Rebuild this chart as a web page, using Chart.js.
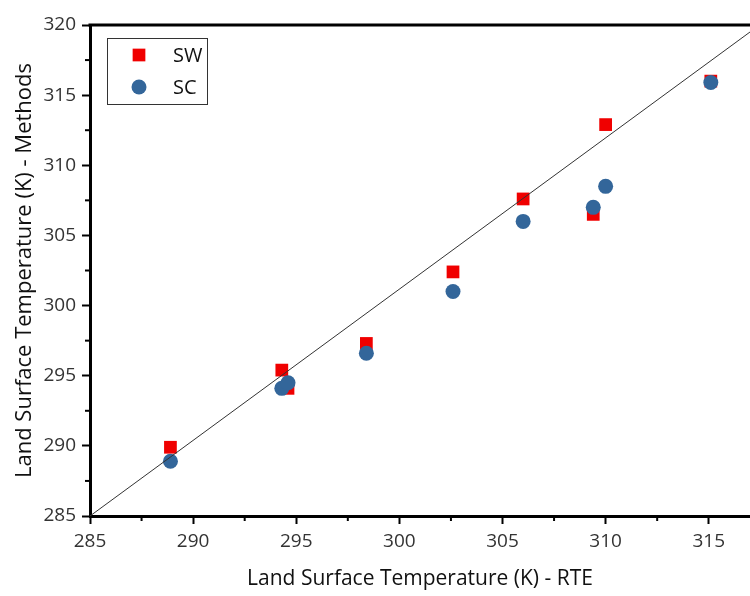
<!DOCTYPE html>
<html>
<head>
<meta charset="utf-8">
<script src="https://cdn.jsdelivr.net/npm/chart.js@4.4.1/dist/chart.umd.min.js"></script>
<style>
html, body { margin: 0; padding: 0; background: #fff; }
#wrap { width: 750px; height: 596px; }
</style>
</head>
<body>
<div id="wrap"><canvas id="chart" width="750" height="596"></canvas></div>
<script>
// values (K)
let rteTemps = [288.9, 294.3, 294.6, 298.4, 302.6, 306.0, 309.4, 310.0, 315.1];
let swTemps = [289.9, 295.4, 294.1, 297.3, 302.4, 307.6, 306.5, 312.9, 316.0];
let scTemps = [288.9, 294.1, 294.5, 296.6, 301.0, 306.0, 307.0, 308.5, 315.9];
let refLineX = [285, 317];
let refLineY = [285, 319.5];
let xTickLabels = [285, 290, 295, 300, 305, 310, 315];
let yTickLabels = [285, 290, 295, 300, 305, 310, 315, 320];
let seriesNames = ['SW', 'SC'];

const RED = '#f00000';
const BLUE = '#33669a';
const FONT = "'Open Sans', 'DejaVu Sans', sans-serif";

function toPoints(xs, ys){
    return xs.map((x, i) => ({ x: x, y: ys[i] }));
}

function isMajor(value, labels){
    return labels.indexOf(Math.round(value * 10) / 10) !== -1;
}

// short minor ticks between the labelled ones, plus the closing top line
const frameAndMinorTicks = {
    id: 'frameAndMinorTicks',
    afterDraw(chart){
        let ctx = chart.ctx;
        let area = chart.chartArea;
        ctx.save();
        ctx.strokeStyle = '#000';
        ctx.lineWidth = 3;
        ctx.beginPath();
        ctx.moveTo(area.left - 1.5, area.top);
        ctx.lineTo(area.right, area.top);
        ctx.stroke();

        ctx.lineWidth = 2;
        let xs = chart.scales.x;
        xs.ticks.forEach(t => {
            if(isMajor(t.value, xTickLabels)) return;
            let px = xs.getPixelForValue(t.value);
            ctx.beginPath();
            ctx.moveTo(px, area.bottom);
            ctx.lineTo(px, area.bottom + 5);
            ctx.stroke();
        });
        let ys = chart.scales.y;
        ys.ticks.forEach(t => {
            if(isMajor(t.value, yTickLabels)) return;
            let py = ys.getPixelForValue(t.value);
            ctx.beginPath();
            ctx.moveTo(area.left, py);
            ctx.lineTo(area.left - 5, py);
            ctx.stroke();
        });
        ctx.restore();
    }
};

// boxed legend in the upper left corner of the plot
const boxedLegend = {
    id: 'boxedLegend',
    afterDraw(chart){
        let ctx = chart.ctx;
        let area = chart.chartArea;
        let left = area.left + 17;
        let top = area.top + 13;
        ctx.save();
        ctx.strokeStyle = '#333';
        ctx.lineWidth = 1;
        ctx.strokeRect(left + 0.5, top + 0.5, 100, 66);

        let styles = [
            { pointStyle: 'rect', radius: 9, color: RED },
            { pointStyle: 'circle', radius: 7.5, color: BLUE }
        ];
        ctx.font = '20px ' + FONT;
        ctx.textBaseline = 'middle';
        styles.forEach((s, i) => {
            let cy = top + 17 + i * 32;
            ctx.fillStyle = s.color;
            Chart.helpers.drawPoint(ctx, { pointStyle: s.pointStyle, radius: s.radius, rotation: 0, borderWidth: 0 }, left + 32, cy);
            ctx.fillStyle = '#111';
            ctx.fillText(seriesNames[i], left + 66, cy + 1);
        });
        ctx.restore();
    }
};

function axisOptions(min, max, labels, title, titleSize, titlePadding){
    return {
        type: 'linear',
        min: min,
        max: max,
        title: {
            display: true,
            text: title,
            color: '#111',
            font: { family: FONT, size: titleSize },
            padding: titlePadding
        },
        ticks: {
            stepSize: 2.5,
            includeBounds: false,
            autoSkip: false,
            maxRotation: 0,
            color: '#333',
            padding: 6,
            font: { family: FONT, size: 19 },
            callback: (value) => isMajor(value, labels) ? String(value) : ''
        },
        grid: {
            display: true,
            drawOnChartArea: false,
            drawTicks: true,
            tickLength: 8,
            tickWidth: 2,
            tickColor: (c) => (c.tick && isMajor(c.tick.value, labels)) ? '#000' : 'rgba(0,0,0,0)'
        },
        border: { display: true, color: '#000', width: 3 }
    };
}

let xAxis = axisOptions(285, 317, xTickLabels, 'Land Surface Temperature (K) - RTE', 21, { top: 8, bottom: 4 });
xAxis.afterFit = (scale) => { scale.height = 80; };
let yAxis = axisOptions(285, 320, yTickLabels, 'Land Surface Temperature (K) - Methods', 22, { top: 12, bottom: 0 });
yAxis.afterFit = (scale) => { scale.width = 90; };

new Chart(document.getElementById('chart').getContext('2d'), {
    type: 'scatter',
    data: {
        datasets: [
            {
                label: 'reference',
                type: 'line',
                data: toPoints(refLineX, refLineY),
                borderColor: '#333',
                borderWidth: 1,
                pointRadius: 0,
                fill: false,
                order: 0
            },
            {
                label: seriesNames[1],
                data: toPoints(rteTemps, scTemps),
                pointStyle: 'circle',
                pointRadius: 7.5,
                backgroundColor: BLUE,
                borderWidth: 0,
                order: 1
            },
            {
                label: seriesNames[0],
                data: toPoints(rteTemps, swTemps),
                pointStyle: 'rect',
                pointRadius: 9,
                backgroundColor: RED,
                borderWidth: 0,
                order: 2
            }
        ]
    },
    options: {
        responsive: false,
        animation: false,
        layout: { autoPadding: false, padding: { left: 0, right: 0, top: 25, bottom: 0 } },
        plugins: {
            legend: { display: false },
            tooltip: { enabled: false }
        },
        scales: { x: xAxis, y: yAxis }
    },
    plugins: [frameAndMinorTicks, boxedLegend]
});
</script>
</body>
</html>
